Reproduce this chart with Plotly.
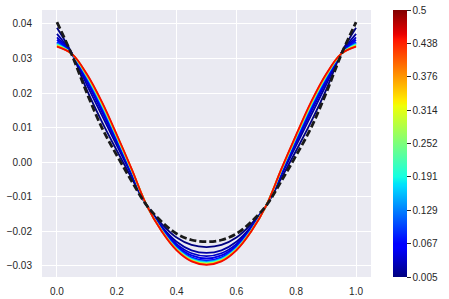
import numpy as np
import plotly.graph_objects as go

# ---------------- data ----------------
X = [0.00, 0.05, 0.10, 0.15, 0.20, 0.25, 0.30, 0.35, 0.40, 0.45, 0.50,
     0.55, 0.60, 0.65, 0.70, 0.75, 0.80, 0.85, 0.90, 0.95, 1.00]

# parameter value of each coloured curve
T = [0.005, 0.02, 0.035, 0.05, 0.07, 0.1, 0.15, 0.2, 0.25, 0.3, 0.375, 0.45]

Y_t0005 = [0.03887, 0.03145, 0.02088, 0.01172, 0.00338, -0.00470, -0.01250, -0.01784, -0.02180, -0.02393, -0.02454,
           -0.02393, -0.02180, -0.01784, -0.01250, -0.00470, 0.00338, 0.01172, 0.02088, 0.03145, 0.03887]
Y_t002 = [0.03709, 0.03140, 0.02238, 0.01360, 0.00488, -0.00382, -0.01250, -0.01854, -0.02300, -0.02548, -0.02622,
          -0.02548, -0.02300, -0.01854, -0.01250, -0.00382, 0.00488, 0.01360, 0.02238, 0.03140, 0.03709]
Y_t0035 = [0.03610, 0.03138, 0.02322, 0.01465, 0.00572, -0.00333, -0.01250, -0.01894, -0.02368, -0.02634, -0.02715,
           -0.02634, -0.02368, -0.01894, -0.01250, -0.00333, 0.00572, 0.01465, 0.02322, 0.03138, 0.03610]
Y_t005 = [0.03539, 0.03136, 0.02382, 0.01540, 0.00632, -0.00298, -0.01250, -0.01922, -0.02416, -0.02696, -0.02782,
          -0.02696, -0.02416, -0.01922, -0.01250, -0.00298, 0.00632, 0.01540, 0.02382, 0.03136, 0.03539]
Y_t007 = [0.03475, 0.03134, 0.02436, 0.01607, 0.00686, -0.00267, -0.01250, -0.01947, -0.02459, -0.02752, -0.02843,
          -0.02752, -0.02459, -0.01947, -0.01250, -0.00267, 0.00686, 0.01607, 0.02436, 0.03134, 0.03475]
Y_t01 = [0.03447, 0.03133, 0.02460, 0.01637, 0.00710, -0.00253, -0.01250, -0.01958, -0.02478, -0.02777, -0.02869,
         -0.02777, -0.02478, -0.01958, -0.01250, -0.00253, 0.00710, 0.01637, 0.02460, 0.03133, 0.03447]
Y_t015 = [0.03425, 0.03132, 0.02478, 0.01660, 0.00728, -0.00242, -0.01250, -0.01966, -0.02492, -0.02796, -0.02890,
          -0.02796, -0.02492, -0.01966, -0.01250, -0.00242, 0.00728, 0.01660, 0.02478, 0.03132, 0.03425]
Y_t02 = [0.03404, 0.03132, 0.02496, 0.01682, 0.00746, -0.00232, -0.01250, -0.01975, -0.02507, -0.02814, -0.02910,
         -0.02814, -0.02507, -0.01975, -0.01250, -0.00232, 0.00746, 0.01682, 0.02496, 0.03132, 0.03404]
Y_t025 = [0.03386, 0.03131, 0.02511, 0.01701, 0.00761, -0.00223, -0.01250, -0.01982, -0.02519, -0.02830, -0.02926,
          -0.02830, -0.02519, -0.01982, -0.01250, -0.00223, 0.00761, 0.01701, 0.02511, 0.03131, 0.03386]
Y_t03 = [0.03372, 0.03131, 0.02523, 0.01716, 0.00773, -0.00216, -0.01250, -0.01987, -0.02528, -0.02842, -0.02940,
         -0.02842, -0.02528, -0.01987, -0.01250, -0.00216, 0.00773, 0.01716, 0.02523, 0.03131, 0.03372]
Y_t0375 = [0.03358, 0.03130, 0.02535, 0.01731, 0.00785, -0.00209, -0.01250, -0.01993, -0.02538, -0.02854, -0.02953,
           -0.02854, -0.02538, -0.01993, -0.01250, -0.00209, 0.00785, 0.01731, 0.02535, 0.03130, 0.03358]
Y_t045 = [0.03340, 0.03130, 0.02550, 0.01750, 0.00800, -0.00200, -0.01250, -0.02000, -0.02550, -0.02870, -0.02970,
          -0.02870, -0.02550, -0.02000, -0.01250, -0.00200, 0.00800, 0.01750, 0.02550, 0.03130, 0.03340]

Y_REF = [0.04050, 0.03100, 0.02000, 0.01000, 0.00200, -0.00550, -0.01250, -0.01720, -0.02070, -0.02250, -0.02300,
         -0.02250, -0.02070, -0.01720, -0.01250, -0.00550, 0.00200, 0.01000, 0.02000, 0.03100, 0.04050]

CURVES = [Y_t0005, Y_t002, Y_t0035, Y_t005, Y_t007, Y_t01, Y_t015, Y_t02, Y_t025, Y_t03, Y_t0375, Y_t045]

CB_MIN, CB_MAX = 0.005, 0.5
CB_TICKVALS = [0.005, 0.067, 0.129, 0.191, 0.252, 0.314, 0.376, 0.438, 0.5]
CB_TICKTEXT = ["0.005", "0.067", "0.129", "0.191", "0.252", "0.314", "0.376", "0.438", "0.5"]
X_TICKS = [0.0, 0.2, 0.4, 0.6, 0.8, 1.0]

# ---------------- matplotlib-like "jet" colormap ----------------
_R = ([0, 0.35, 0.66, 0.89, 1.0], [0, 0, 1, 1, 0.5])
_G = ([0, 0.125, 0.375, 0.64, 0.91, 1.0], [0, 0, 1, 1, 0, 0])
_B = ([0, 0.11, 0.34, 0.65, 1.0], [0.5, 1, 1, 0, 0])


def jet(v):
    r = np.interp(v, *_R)
    g = np.interp(v, *_G)
    b = np.interp(v, *_B)
    return "rgb(%d,%d,%d)" % (round(r * 255), round(g * 255), round(b * 255))


_stops = [0, 0.11, 0.125, 0.34, 0.35, 0.375, 0.64, 0.65, 0.66, 0.89, 0.91, 1.0]
JET = [[s, jet(s)] for s in _stops]

TXT = "#262626"
FONT = "Liberation Sans, Arial, sans-serif"

fig = go.Figure()

for t, ys in zip(T, CURVES):
    fig.add_trace(go.Scatter(
        x=X, y=ys, mode="lines",
        line=dict(color=jet((t - CB_MIN) / (CB_MAX - CB_MIN)), width=1.8,
                  shape="spline", smoothing=1.0),
        showlegend=False, hoverinfo="skip"))

fig.add_trace(go.Scatter(
    x=X, y=Y_REF, mode="lines",
    line=dict(color="#1a1a1a", width=2.8, dash="7px,3px", shape="spline", smoothing=1.0),
    showlegend=False, hoverinfo="skip"))

# colour bar carrier
fig.add_trace(go.Scatter(
    x=[X[0]], y=[Y_REF[0]], mode="markers",
    marker=dict(size=1, opacity=0, color=[CB_MIN], colorscale=JET, cmin=CB_MIN, cmax=CB_MAX,
                showscale=True,
                colorbar=dict(thickness=14, thicknessmode="pixels", len=1.0, lenmode="fraction",
                              x=1.067, xanchor="left", xpad=0, y=0.5, yanchor="middle", ypad=0,
                              outlinewidth=0, ticks="outside", ticklen=4, tickwidth=1,
                              tickcolor=TXT, tickvals=CB_TICKVALS, ticktext=CB_TICKTEXT,
                              tickfont=dict(size=10, color=TXT, family=FONT))),
    showlegend=False, hoverinfo="skip"))

fig.update_layout(
    width=449, height=299, autosize=False,
    margin=dict(l=42, r=78, t=10, b=22, pad=0, autoexpand=False),
    paper_bgcolor="white", plot_bgcolor="#EAEAF2",
    font=dict(family=FONT, size=10, color=TXT),
    showlegend=False,
)
fig.update_xaxes(range=[-0.05, 1.05], tickvals=X_TICKS, tickformat=".1f", automargin=False,
                 showgrid=True, gridcolor="white", gridwidth=1.2, zeroline=False, showline=False,
                 ticks="outside", ticklen=5, tickcolor="rgba(0,0,0,0)")
fig.update_yaxes(range=[-0.0332, 0.0440], dtick=0.01, tick0=0, tickformat=".2f", automargin=False,
                 showgrid=True, gridcolor="white", gridwidth=1.2, zeroline=False, showline=False,
                 ticks="outside", ticklen=7, tickcolor="rgba(0,0,0,0)")

fig.write_html("out.html", config={"displayModeBar": False},
               post_script="document.body.style.margin='0';document.body.style.overflow='hidden';")
